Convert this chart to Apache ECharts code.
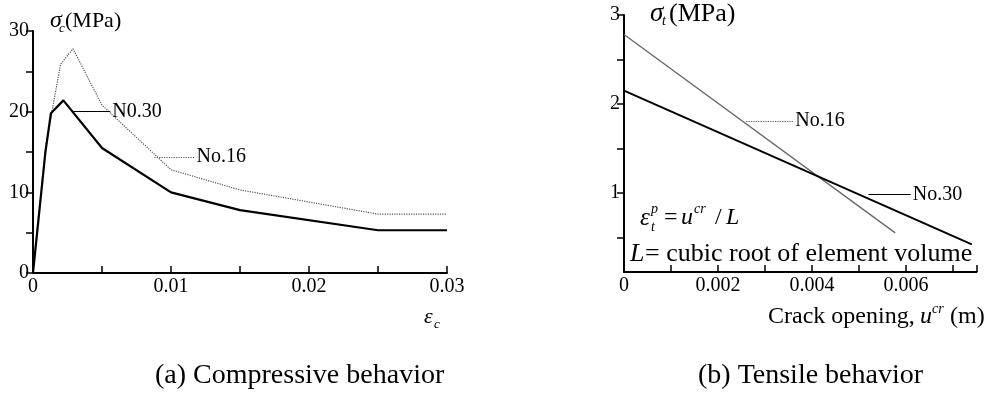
<!DOCTYPE html>
<html>
<head>
<meta charset="utf-8">
<script src="https://cdn.jsdelivr.net/npm/echarts@6/dist/echarts.min.js"></script>
<style>
  html, body { margin: 0; padding: 0; background: #fff; }
  #chart { width: 987px; height: 403px; }
</style>
</head>
<body>
<div id="chart"></div>
<script>
// (a) Compressive stress–strain curves
const compStrain16 = [0, 0.0003, 0.0009, 0.002, 0.0029, 0.005, 0.01, 0.015, 0.025, 0.03];
const compStress16 = [0, 5.5, 15.5, 25.9, 27.8, 20.8, 12.8, 10.3, 7.3, 7.3];
const compStrain30 = [0, 0.0003, 0.0009, 0.0013, 0.0022, 0.005, 0.01, 0.015, 0.025, 0.03];
const compStress30 = [0, 5, 15, 19.8, 21.4, 15.5, 10, 7.8, 5.3, 5.3];

// (b) Tensile softening lines
const tensOpen16 = [0, 0.00577];
const tensStress16 = [2.78, 0.55];
const tensOpen30 = [0, 0.0074];
const tensStress30 = [2.15, 0.42];

// Axis ticks
const compYMajor = [0, 10, 20, 30];
const compYMinor = [5, 15, 25];
const tensYMajor = [1, 2, 3];
const tensYMinor = [0.5, 1.5, 2.5];

const SERIF = '"Liberation Serif", "Times New Roman", serif';
const pairs = (xs, ys) => xs.map((x, i) => [x, ys[i]]);

const chart = echarts.init(document.getElementById('chart'), null, { renderer: 'canvas' });

const axisLineStyle = { color: '#000', width: 2 };
const tickLabel = { color: '#000', fontFamily: SERIF, fontSize: 20 };

function leader(x1, x2, y, text, dashed) {
  return {
    silent: true,
    symbol: ['none', 'none'],
    animation: false,
    lineStyle: { color: dashed ? '#555' : '#000', width: 1.2, type: dashed ? 'dotted' : 'solid' },
    label: {
      show: true, position: 'end', distance: 2, formatter: text,
      color: '#000', fontFamily: SERIF, fontSize: 20
    },
    data: [[{ coord: [x1, y] }, { coord: [x2, y] }]]
  };
}

function txt(left, top, text, size, italic) {
  return {
    type: 'text', left, top,
    style: { text, font: (italic ? 'italic ' : '') + size + 'px ' + SERIF, fill: '#000' }
  };
}

const option = {
  animation: false,
  backgroundColor: '#fff',
  grid: [
    { left: 33, right: 540, top: 31, bottom: 130 },
    { left: 624, right: 10.5, top: 15, bottom: 131 }
  ],
  xAxis: [
    {
      gridIndex: 0, type: 'value', min: 0, max: 0.03, interval: 0.005,
      axisLine: { onZero: false, lineStyle: axisLineStyle },
      axisTick: { inside: true, length: 7, lineStyle: { color: '#000', width: 1.5 } },
      axisLabel: {
        ...tickLabel, margin: 4,
        formatter: v => {
          const k = Math.round(v * 1000);
          if (k % 10 !== 0) return '';
          return k === 0 ? '0' : (k / 1000).toFixed(2);
        }
      },
      splitLine: { show: false }
    },
    {
      gridIndex: 1, type: 'value', min: 0, max: 0.0075, interval: 0.001,
      axisLine: { onZero: false, lineStyle: axisLineStyle },
      axisTick: { inside: true, length: 7, lineStyle: { color: '#000', width: 1.5 } },
      axisLabel: {
        ...tickLabel, margin: 4,
        formatter: v => {
          const k = Math.round(v * 10000);
          if (k % 20 !== 0 || k > 60) return '';
          return k === 0 ? '0' : (k / 10000).toFixed(3);
        }
      },
      splitLine: { show: false }
    }
  ],
  yAxis: [
    {
      gridIndex: 0, type: 'value', min: 0, max: 30, interval: 10,
      axisLine: { onZero: false, lineStyle: axisLineStyle },
      axisTick: { inside: false, length: 7, lineStyle: { color: '#000', width: 1.5 }, customValues: compYMajor },
      axisLabel: { ...tickLabel, margin: 4, customValues: compYMajor },
      splitLine: { show: false }
    },
    {
      gridIndex: 0, type: 'value', min: 0, max: 30, interval: 5,
      axisLine: { show: false },
      axisTick: { inside: true, length: 7, lineStyle: { color: '#000', width: 1.5 }, customValues: compYMinor },
      axisLabel: { show: false },
      splitLine: { show: false }
    },
    {
      gridIndex: 1, type: 'value', min: 0.11, max: 3,
      axisLine: { onZero: false, lineStyle: axisLineStyle },
      axisTick: { inside: false, length: 7, lineStyle: { color: '#000', width: 1.5 }, customValues: tensYMajor },
      axisLabel: { ...tickLabel, margin: 4, customValues: tensYMajor },
      splitLine: { show: false }
    },
    {
      gridIndex: 1, type: 'value', min: 0.11, max: 3,
      axisLine: { show: false },
      axisTick: { inside: true, length: 7, lineStyle: { color: '#000', width: 1.5 }, customValues: tensYMinor },
      axisLabel: { show: false },
      splitLine: { show: false }
    }
  ],
  series: [
    {
      name: 'No.16', type: 'line', xAxisIndex: 0, yAxisIndex: 0, symbol: 'none',
      lineStyle: { color: '#555', width: 1.2, type: 'dotted' },
      data: pairs(compStrain16, compStress16),
      markLine: leader(0.0088, 0.0117, 14.4, 'No.16', true)
    },
    {
      name: 'No.30', type: 'line', xAxisIndex: 0, yAxisIndex: 0, symbol: 'none',
      lineStyle: { color: '#000', width: 2.2 },
      data: pairs(compStrain30, compStress30),
      markLine: leader(0.00284, 0.0056, 20, 'N0.30', false)
    },
    {
      name: 'No.16', type: 'line', xAxisIndex: 1, yAxisIndex: 2, symbol: 'none',
      lineStyle: { color: '#666', width: 1.3 },
      data: pairs(tensOpen16, tensStress16),
      markLine: leader(0.0026, 0.0036, 1.81, 'No.16', true)
    },
    {
      name: 'No.30', type: 'line', xAxisIndex: 1, yAxisIndex: 2, symbol: 'none',
      lineStyle: { color: '#000', width: 2 },
      data: pairs(tensOpen30, tensStress30),
      markLine: leader(0.0052, 0.0061, 0.98, 'No.30', false)
    }
  ],
  graphic: [
    // compressive axis titles
    txt(50, 9, 'σ', 24, true),
    txt(59, 22, 'c', 13, true),
    txt(65, 10, '(MPa)', 22, false),
    txt(424, 306, 'ε', 22, true),
    txt(434, 318, 'c', 13, true),
    // tensile axis titles
    txt(650, 0, 'σ', 27, true),
    txt(662, 14, 't', 14, true),
    txt(669, 1, '(MPa)', 26, false),
    txt(768, 305, 'Crack opening,', 24, false),
    txt(920, 305, 'u', 24, true),
    txt(932, 302, 'cr', 14, true),
    txt(950, 305, '(m)', 24, false),
    // plastic strain definition
    txt(640, 206, 'ε', 25, true),
    txt(651, 202, 'p', 14, true),
    txt(651, 220, 't', 14, true),
    txt(664, 206, '=', 24, false),
    txt(681, 206, 'u', 24, true),
    txt(694, 202, 'cr', 14, true),
    txt(715, 206, '/', 24, false),
    txt(726, 206, 'L', 24, true),
    txt(630, 241, 'L', 26, true),
    txt(645, 241, '= cubic root of element volume', 26, false),
    // captions
    txt(155, 362, '(a) Compressive behavior', 28, false),
    txt(698, 362, '(b) Tensile behavior', 28, false)
  ]
};

chart.setOption(option);
</script>
</body>
</html>
